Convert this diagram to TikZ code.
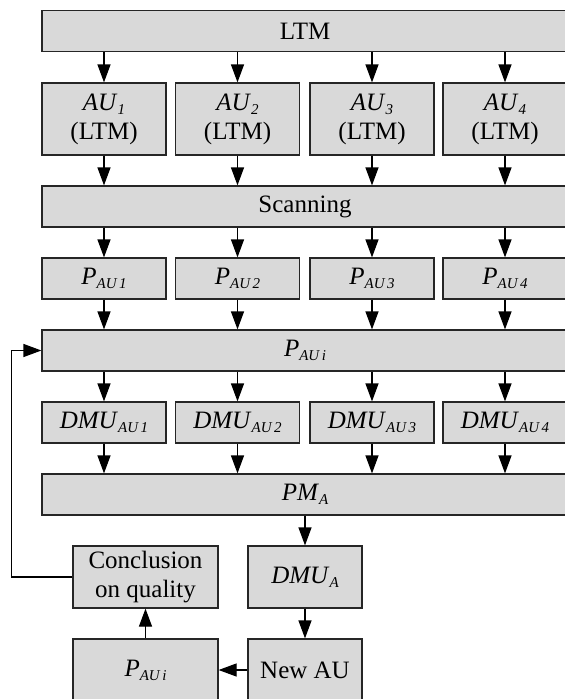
\documentclass[tikz,border=0pt]{standalone}
\usepackage{fontspec}
\setmainfont{Liberation Serif}
\usetikzlibrary{arrows.meta}
\definecolor{boxgray}{HTML}{D9D9D9}
\newcommand{\isub}[2]{\textit{#1}\raisebox{-4pt}{\fontsize{15}{15}\selectfont\textit{#2}}}

\begin{document}
\begin{tikzpicture}[x=1pt,y=-1pt,
    box/.style={draw=black!85, line width=1.2pt, fill=boxgray, inner sep=0pt,
      minimum width=124pt, minimum height=41pt, align=center,
      font=\fontsize{25}{29}\selectfont},
    bar/.style={box, minimum width=526pt},
    flow/.style={-{Triangle[length=18pt,width=13pt]}, line width=1.2pt}]
      \clip (0,0) rectangle (565,699);
      \draw
        (305,31) node[bar] (ltm){LTM}
        (104,119) node[box, minimum height=72pt] (au1){\isub{AU}{1}\\(LTM)}
        (237.5,119) node[box, minimum height=72pt] (au2){\isub{AU}{2}\\(LTM)}
        (372,119) node[box, minimum height=72pt] (au3){\isub{AU}{3}\\(LTM)}
        (505,119) node[box, minimum height=72pt] (au4){\isub{AU}{4}\\(LTM)}
        (305,206.5) node[bar] (scan){Scanning}
        (104,278.5) node[box] (p1){\isub{P}{AU\,1}}
        (237.5,278.5) node[box] (p2){\isub{P}{AU\,2}}
        (372,278.5) node[box] (p3){\isub{P}{AU\,3}}
        (505,278.5) node[box] (p4){\isub{P}{AU\,4}}
        (305,350.5) node[bar] (pi){\isub{P}{AU\,i}}
        (104,422.5) node[box] (d1){\isub{DMU}{AU\,1}}
        (237.5,422.5) node[box] (d2){\isub{DMU}{AU\,2}}
        (372,422.5) node[box] (d3){\isub{DMU}{AU\,3}}
        (505,422.5) node[box] (d4){\isub{DMU}{AU\,4}}
        (305,494.5) node[bar] (pm){\isub{PM}{A}}
        (145.5,577) node[box, minimum width=145pt, minimum height=62pt] (concl){Conclusion\\on quality}
        (305,577) node[box, minimum width=114pt, minimum height=62pt] (dmua){\isub{DMU}{A}}
        (145.5,670) node[box, minimum width=145pt, minimum height=62pt] (pib){\isub{P}{AU\,i}}
        (305,670) node[box, minimum width=114pt, minimum height=62pt] (new){New AU};
      \begin{scope}[flow]
        \draw (ltm.south -| au1) to (au1);
        \draw (ltm.south -| au2) to (au2);
        \draw (ltm.south -| au3) to (au3);
        \draw (ltm.south -| au4) to (au4);
        \draw (au1) to (scan.north -| au1);
        \draw (au2) to (scan.north -| au2);
        \draw (au3) to (scan.north -| au3);
        \draw (au4) to (scan.north -| au4);
        \draw (scan.south -| p1) to (p1);
        \draw (scan.south -| p2) to (p2);
        \draw (scan.south -| p3) to (p3);
        \draw (scan.south -| p4) to (p4);
        \draw (p1) to (pi.north -| p1);
        \draw (p2) to (pi.north -| p2);
        \draw (p3) to (pi.north -| p3);
        \draw (p4) to (pi.north -| p4);
        \draw (pi.south -| d1) to (d1);
        \draw (pi.south -| d2) to (d2);
        \draw (pi.south -| d3) to (d3);
        \draw (pi.south -| d4) to (d4);
        \draw (d1) to (pm.north -| d1);
        \draw (d2) to (pm.north -| d2);
        \draw (d3) to (pm.north -| d3);
        \draw (d4) to (pm.north -| d4);
        \draw (pm.south -| dmua) to (dmua);
        \draw (dmua) to (new);
        \draw (new) to (pib);
        \draw (pib) to (concl);
        \draw (concl.west) -- ++(-61,0) |- (pi.west);
      \end{scope}
    \end{tikzpicture}
\end{document}
